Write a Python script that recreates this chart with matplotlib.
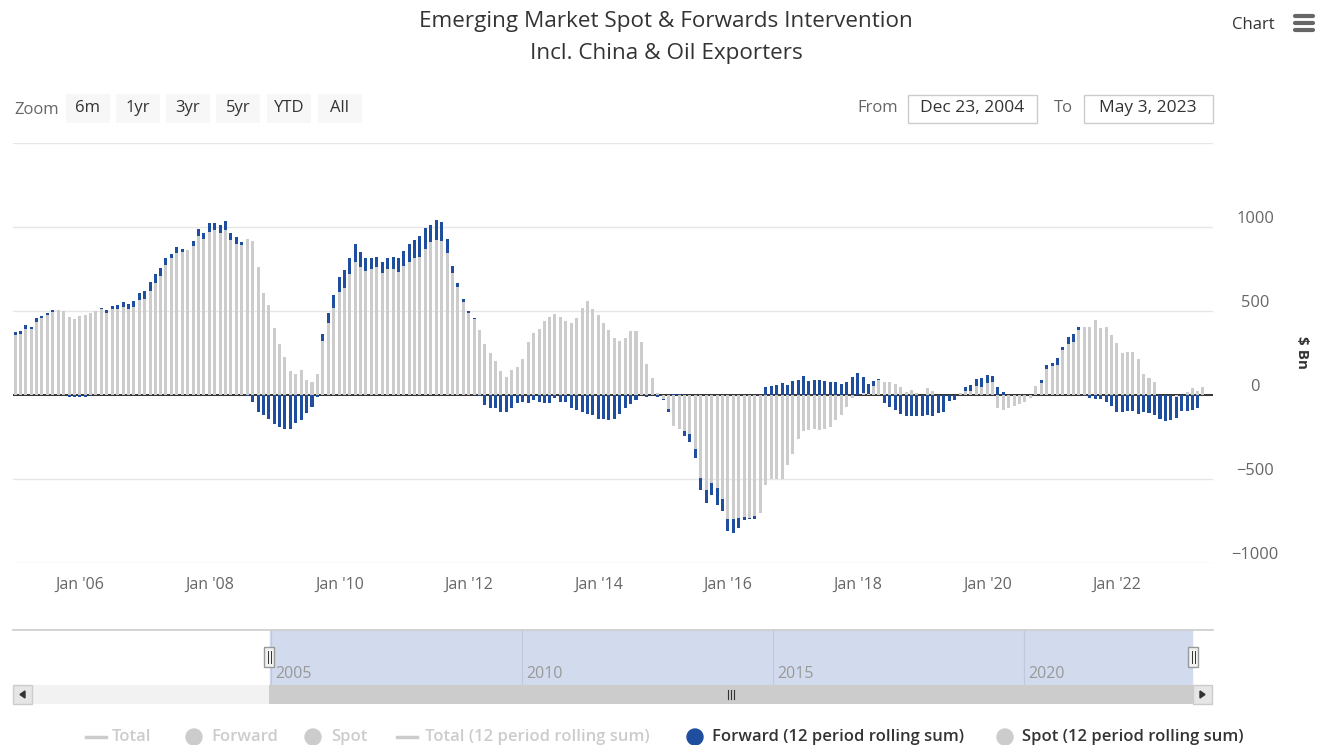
import numpy as np
import pandas as pd
import matplotlib
matplotlib.use("Agg")
import matplotlib.pyplot as plt
from matplotlib.patches import Rectangle, Polygon, Circle
import matplotlib.transforms as mtrans

plt.rcParams['font.family'] = ['Open Sans', 'DejaVu Sans']

# monthly data, 12 period rolling sums ($ Bn), month ends Dec 2004 - Apr 2023
months = pd.date_range('2005-01-01', periods=221, freq='MS') - pd.Timedelta(days=1)

spot = np.array([
    360, 364, 394, 392, 432, 458, 474, 492, 504, 498, 464, 454,
    470, 478, 486, 500, 510, 490, 512, 514, 524, 512, 524, 564,
    570, 620, 668, 708, 774, 814, 848, 850, 864, 888, 948, 928,
    972, 980, 964, 980, 924, 900, 890, 930, 916, 760, 610, 538,
    398, 306, 226, 144, 126, 150, 92, 78, 126, 324, 428, 520,
    614, 636, 720, 794, 760, 736, 750, 760, 728, 750, 750, 734,
    768, 794, 816, 824, 868, 908, 924, 916, 848, 728, 644, 554,
    488, 450, 388, 304, 248, 200, 144, 110, 150, 168, 216, 314,
    370, 390, 438, 464, 480, 464, 438, 428, 460, 520, 560, 510,
    478, 428, 388, 338, 323, 339, 379, 379, 313, 184, 101, 12,
    -22, -83, -186, -202, -216, -232, -320, -493, -564, -523, -552, -618,
    -740, -740, -730, -727, -730, -723, -700, -533, -500, -500, -500, -414,
    -350, -261, -212, -208, -202, -208, -202, -192, -148, -121, -73, -18,
    0, 10, 6, 55, 92, 79, 79, 64, 48, 16, 28, 14,
    0, 44, 21, 0, 0, 0, 0, 12, 25, 23, 53, 50,
    72, 75, -75, -92, -78, -64, -52, -40, -16, 53, 70, 152,
    170, 180, 270, 306, 316, 386, 406, 406, 446, 396, 406, 356,
    310, 248, 255, 255, 217, 126, 102, 76, 0, 0, 0, -10,
    0, 15, 42, 22, 50])

forward = np.array([
    14, 18, 20, 14, 24, 14, 14, 12, 0, 0, -10, -10,
    -10, -10, -8, 0, 10, 14, 16, 22, 28, 32, 36, 46,
    50, 54, 52, 50, 42, 28, 32, 18, 0, 28, 40, 36,
    50, 42, 50, 58, 42, 40, 18, -6, -42, -100, -120, -140,
    -170, -190, -200, -200, -165, -148, -110, -70, -10, 40, 60, 74,
    86, 106, 96, 104, 90, 80, 64, 64, 62, 64, 74, 80,
    88, 104, 106, 122, 128, 104, 120, 114, 82, 38, 24, 16,
    10, 8, -8, -60, -76, -80, -100, -100, -80, -50, -40, -50,
    -30, -40, -50, -50, -20, -40, -40, -80, -90, -100, -116, -120,
    -140, -140, -148, -140, -116, -76, -53, -27, 0, -10, 0, -14,
    -8, -16, 4, 4, -30, -45, -55, -70, -80, -75, -100, -73,
    -70, -80, -60, -20, -10, -18, 0, 50, 55, 61, 71, 61,
    81, 89, 111, 85, 89, 91, 85, 75, 79, 67, 80, 107,
    132, 97, 57, 30, 5, -50, -70, -90, -114, -125, -125, -124,
    -123, -120, -124, -110, -100, -37, -28, 0, 22, 36, 40, 50,
    48, 37, 45, 15, 0, -4, -4, -4, -4, 0, 20, 28,
    20, 40, 16, 40, 50, 20, -6, -16, -24, -26, -42, -66,
    -100, -100, -96, -98, -112, -102, -110, -118, -143, -152, -149, -128,
    -95, -95, -90, -78, 0])

yticks = [-1000, -500, 0, 500, 1000]
ytick_labels = ['\u22121000', '\u2212500', '0', '500', '1000']
xtick_years = list(range(2006, 2023, 2))
nav_years = [2005, 2010, 2015, 2020]

W, H = 1318, 745
BLUE = '#1f4e9e'
GREY = '#cccccc'


def fbox(x0, y0, x1, y1):
    return [x0 / W, 1 - y1 / H, (x1 - x0) / W, (y1 - y0) / H]


fig = plt.figure(figsize=(W / 100, H / 100), dpi=100)

# overlay in pixel coordinates for the page furniture (drawn on top)
ov = fig.add_axes([0, 0, 1, 1])
ov.set_xlim(0, W)
ov.set_ylim(H, 0)
ov.axis('off')
ov.set_zorder(10)

# title
ov.text(666, 21, 'Emerging Market Spot & Forwards Intervention', ha='center', va='center',
        fontsize=16.2, color='#333333')
ov.text(666, 54, 'Incl. China & Oil Exporters', ha='center', va='center',
        fontsize=16.2, color='#333333')

# export menu
ov.text(1275, 25, 'Chart', ha='right', va='center', fontsize=12, color='#333333')
for yy in [16, 23, 30]:
    ov.plot([1295, 1313], [yy, yy], color='#666666', lw=3, solid_capstyle='round')

# range selector
ov.text(14, 110, 'Zoom', ha='left', va='center', fontsize=12, color='#666666')
buttons = ['6m', '1yr', '3yr', '5yr', 'YTD', 'All']
bx = [66, 116, 166, 216, 267, 318]
for lab, x0 in zip(buttons, bx):
    ov.add_patch(Rectangle((x0, 94), 44, 29, facecolor='#f7f7f7', edgecolor='none'))
    ov.text(x0 + 22, 108, lab, ha='center', va='center', fontsize=12, color='#333333')

ov.text(898, 108, 'From', ha='right', va='center', fontsize=12, color='#666666')
ov.add_patch(Rectangle((908, 95), 129, 28, facecolor='white', edgecolor=GREY, lw=1))
ov.text(972, 108, 'Dec 23, 2004', ha='center', va='center', fontsize=12.5, color='#333333')
ov.text(1073, 108, 'To', ha='right', va='center', fontsize=12, color='#666666')
ov.add_patch(Rectangle((1084, 95), 129, 28, facecolor='white', edgecolor=GREY, lw=1))
ov.text(1148, 108, 'May 3, 2023', ha='center', va='center', fontsize=12.5, color='#333333')

# main chart
ax = fig.add_axes(fbox(13, 143, 1212.7, 563))
ax.set_facecolor('none')
ax.set_axisbelow(True)
ax.bar(months, spot, width=17, color=GREY, zorder=2, linewidth=0)
fwd_bottom = np.where(forward >= 0, np.maximum(spot, 0), np.minimum(spot, 0))
ax.bar(months, forward, bottom=fwd_bottom, width=17, color=BLUE, zorder=2, linewidth=0)
ax.axhline(0, color='#333333', lw=1.4, zorder=1)

ax.set_ylim(-1000, 1500)
ax.set_xlim(pd.Timestamp('2004-12-19'), pd.Timestamp('2023-06-24'))
ax.set_yticks(yticks + [1500])
ax.yaxis.grid(True, color='#e6e6e6', lw=1)
ax.tick_params(axis='y', length=0, labelleft=False)
ax.set_xticks([pd.Timestamp(f'{y}-01-01') for y in xtick_years])
ax.set_xticklabels([f"Jan '{str(y)[2:]}" for y in xtick_years], fontsize=11.5, color='#666666')
ax.tick_params(axis='x', length=0, pad=10)
for s in ax.spines.values():
    s.set_visible(False)

# y labels sit a little above their gridlines
tr = mtrans.blended_transform_factory(fig.transFigure, ax.transData) + \
    mtrans.ScaledTranslation(0, 8 / 100, fig.dpi_scale_trans)
for v, lab in zip(yticks, ytick_labels):
    ax.text(1255 / W, v, lab, transform=tr, ha='center', va='center', fontsize=11.8,
            color='#666666', clip_on=False)
ov.text(1302, 352, '$ Bn', rotation=270, ha='center', va='center', fontsize=11,
        color='#333333', fontweight='bold')

# navigator
nav = fig.add_axes(fbox(13, 630, 1212.7, 685))
nav.set_facecolor('none')
nav.set_xlim(pd.Timestamp('1999-11-11'), pd.Timestamp('2023-10-04'))
nav.set_ylim(0, 1)
nav.axvspan(pd.Timestamp('2004-12-23'), pd.Timestamp('2023-05-03'), color='#d2daed', zorder=1)
for y in nav_years:
    d = pd.Timestamp(f'{y}-01-01')
    nav.axvline(d, color='#bfc8dc', lw=0.8, zorder=2)
    nav.text(d + pd.Timedelta(days=30), 0.2, str(y), ha='left', va='center',
             fontsize=11.5, color='#999999', zorder=3)
nav.set_xticks([])
nav.set_yticks([])
for s in nav.spines.values():
    s.set_visible(False)
ov.plot([13, 1212.7], [630, 630], color=GREY, lw=1.2)

# navigator handles
for hx in [269, 1193]:
    ov.add_patch(Rectangle((hx - 5, 647), 10, 20, facecolor='#f2f2f2', edgecolor='#999999', lw=1, zorder=5))
    for dx in [-1.5, 1.5]:
        ov.plot([hx + dx, hx + dx], [651, 663], color='#333333', lw=0.7, zorder=6)

# scrollbar
ov.add_patch(Rectangle((13, 685), 1199.7, 19, facecolor='#f2f2f2', edgecolor='none'))
ov.add_patch(Rectangle((269, 685), 924, 19, facecolor=GREY, edgecolor='none'))
for bx0 in [13, 1193]:
    ov.add_patch(Rectangle((bx0, 685), 19, 19, facecolor='#e6e6e6', edgecolor=GREY, lw=1))
ov.add_patch(Polygon([[25, 691], [25, 698], [20, 694.5]], closed=True, color='#333333'))
ov.add_patch(Polygon([[1200, 691], [1200, 698], [1205, 694.5]], closed=True, color='#333333'))
for dx in [-3, 0, 3]:
    ov.plot([731 + dx, 731 + dx], [690, 699], color='#333333', lw=0.8)

# legend
ly = 737
legend_items = [
    ('line', 96, 'Total', 112, GREY, GREY),
    ('dot', 194, 'Forward', 211, GREY, GREY),
    ('dot', 313, 'Spot', 331, GREY, GREY),
    ('line', 407, 'Total (12 period rolling sum)', 425, GREY, GREY),
    ('dot', 695, 'Forward (12 period rolling sum)', 712, BLUE, '#333333'),
    ('dot', 1005, 'Spot (12 period rolling sum)', 1022, GREY, '#333333'),
]
for kind, sx, lab, tx, sc, tc in legend_items:
    if kind == 'line':
        ov.plot([sx - 10, sx + 10], [ly, ly], color=sc, lw=2.5)
    else:
        ov.add_patch(Circle((sx, ly), 8, color=sc))
    ov.text(tx, ly, lab, ha='left', va='center', fontsize=12, fontweight='semibold', color=tc)

fig.savefig('out.png', dpi=100)
